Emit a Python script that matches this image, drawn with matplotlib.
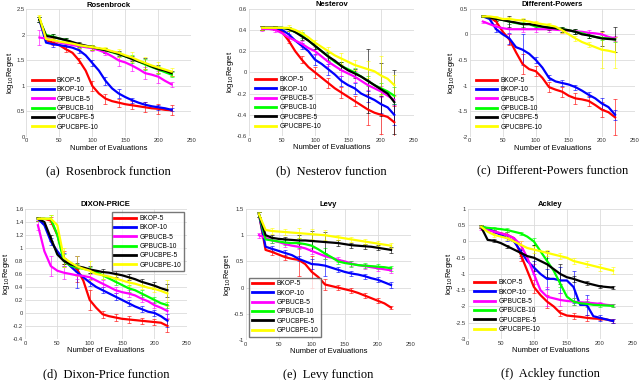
import numpy as np
import matplotlib
matplotlib.use("Agg")
import matplotlib.pyplot as plt
from matplotlib.ticker import FormatStrFormatter

series = ["BKOP-5", "BKOP-10", "GPBUCB-5", "GPBUCB-10", "GPUCBPE-5", "GPUCBPE-10"]
colors = ["#ff0000", "#0000ff", "#ff00ff", "#00ff00", "#000000", "#ffff00"]

evals = [20, 30, 40, 50, 60, 70, 80, 90, 100, 110, 120, 130, 140, 150, 160, 170, 180, 190, 200, 210, 220]
err_evals = [20, 40, 60, 80, 100, 120, 140, 160, 180, 200, 220]

rosen_mean = [
    [2.3, 1.9, 1.85, 1.8, 1.72, 1.65, 1.5, 1.3, 1.0, 0.85, 0.75, 0.7, 0.67, 0.64, 0.62, 0.6, 0.58, 0.56, 0.55, 0.53, 0.52],
    [2.3, 1.85, 1.82, 1.8, 1.78, 1.75, 1.7, 1.6, 1.45, 1.3, 1.1, 0.95, 0.85, 0.78, 0.72, 0.67, 0.63, 0.6, 0.58, 0.56, 0.53],
    [1.95, 1.93, 1.9, 1.85, 1.83, 1.8, 1.78, 1.76, 1.74, 1.7, 1.65, 1.58, 1.5, 1.46, 1.4, 1.33, 1.25, 1.22, 1.18, 1.1, 1.03],
    [2.3, 2.0, 1.97, 1.93, 1.9, 1.85, 1.8, 1.78, 1.76, 1.73, 1.7, 1.66, 1.62, 1.58, 1.53, 1.48, 1.42, 1.37, 1.32, 1.27, 1.22],
    [2.3, 1.98, 1.96, 1.93, 1.9, 1.86, 1.82, 1.79, 1.76, 1.73, 1.7, 1.67, 1.63, 1.58, 1.53, 1.48, 1.44, 1.38, 1.33, 1.3, 1.25],
    [2.35, 1.92, 1.9, 1.87, 1.85, 1.83, 1.8, 1.78, 1.76, 1.74, 1.72, 1.68, 1.65, 1.6, 1.56, 1.5, 1.45, 1.4, 1.36, 1.32, 1.28],
]
rosen_err = [
    [0.05, 0.05, 0.05, 0.05, 0.1, 0.1, 0.08, 0.08, 0.1, 0.1, 0.1],
    [0.05, 0.05, 0.05, 0.05, 0.05, 0.08, 0.08, 0.05, 0.05, 0.05, 0.03],
    [0.15, 0.05, 0.05, 0.05, 0.05, 0.05, 0.1, 0.1, 0.12, 0.12, 0.05],
    [0.05, 0.05, 0.05, 0.05, 0.05, 0.05, 0.05, 0.08, 0.1, 0.08, 0.05],
    [0.05, 0.05, 0.05, 0.05, 0.05, 0.05, 0.05, 0.05, 0.1, 0.08, 0.05],
    [0.05, 0.05, 0.05, 0.05, 0.05, 0.05, 0.08, 0.1, 0.12, 0.1, 0.08],
]

nest_mean = [
    [0.42, 0.42, 0.42, 0.38, 0.3, 0.2, 0.12, 0.05, 0.0, -0.05, -0.1, -0.15, -0.19, -0.23, -0.27, -0.31, -0.35, -0.38, -0.4, -0.42, -0.47],
    [0.42, 0.42, 0.42, 0.4, 0.36, 0.3, 0.25, 0.2, 0.12, 0.08, 0.03, -0.02, -0.08, -0.12, -0.15, -0.2, -0.23, -0.26, -0.3, -0.33, -0.4],
    [0.41, 0.41, 0.4, 0.37, 0.33, 0.3, 0.27, 0.23, 0.2, 0.15, 0.1, 0.06, 0.02, -0.01, -0.04, -0.08, -0.12, -0.15, -0.18, -0.22, -0.26],
    [0.42, 0.42, 0.42, 0.42, 0.41, 0.38, 0.35, 0.3, 0.25, 0.2, 0.15, 0.1, 0.06, 0.03, 0.0, -0.04, -0.08, -0.12, -0.15, -0.18, -0.22],
    [0.42, 0.42, 0.42, 0.42, 0.41, 0.38, 0.34, 0.3, 0.25, 0.2, 0.15, 0.11, 0.06, 0.02, -0.01, -0.04, -0.08, -0.12, -0.16, -0.2, -0.28],
    [0.42, 0.42, 0.42, 0.42, 0.42, 0.4, 0.37, 0.33, 0.28, 0.24, 0.2, 0.16, 0.13, 0.1, 0.07, 0.05, 0.03, 0.01, -0.03, -0.06, -0.12],
]
nest_err = [
    [0.02, 0.02, 0.02, 0.03, 0.05, 0.05, 0.05, 0.05, 0.15, 0.18, 0.15],
    [0.02, 0.02, 0.03, 0.03, 0.05, 0.05, 0.05, 0.05, 0.05, 0.08, 0.1],
    [0.02, 0.02, 0.03, 0.03, 0.04, 0.04, 0.05, 0.05, 0.05, 0.05, 0.05],
    [0.02, 0.02, 0.02, 0.03, 0.03, 0.03, 0.04, 0.04, 0.05, 0.05, 0.08],
    [0.02, 0.02, 0.02, 0.03, 0.03, 0.04, 0.04, 0.04, 0.3, 0.25, 0.3],
    [0.02, 0.02, 0.03, 0.03, 0.03, 0.04, 0.05, 0.05, 0.08, 0.18, 0.1],
]

dp_mean = [
    [0.35, 0.33, 0.25, 0.05, -0.1, -0.35, -0.58, -0.68, -0.72, -0.85, -1.03, -1.08, -1.12, -1.2, -1.25, -1.27, -1.3, -1.38, -1.47, -1.52, -1.62],
    [0.35, 0.3, 0.1, 0.0, -0.08, -0.25, -0.3, -0.38, -0.5, -0.65, -0.85, -0.92, -0.95, -0.98, -1.03, -1.1, -1.18, -1.25, -1.35, -1.42, -1.57],
    [0.25, 0.2, 0.15, 0.12, 0.1, 0.1, 0.1, 0.1, 0.1, 0.1, 0.1, 0.09, 0.08, 0.07, 0.06, 0.05, 0.03, 0.02, 0.0, -0.05, -0.08],
    [0.35, 0.33, 0.3, 0.28, 0.25, 0.22, 0.2, 0.2, 0.15, 0.15, 0.14, 0.12, 0.1, 0.08, 0.05, 0.02, -0.02, -0.05, -0.07, -0.08, -0.1],
    [0.35, 0.33, 0.3, 0.28, 0.25, 0.23, 0.2, 0.2, 0.18, 0.15, 0.13, 0.12, 0.1, 0.08, 0.05, 0.0, -0.02, -0.05, -0.08, -0.09, -0.1],
    [0.35, 0.35, 0.33, 0.3, 0.3, 0.28, 0.27, 0.25, 0.22, 0.2, 0.18, 0.15, 0.08, 0.0, -0.08, -0.15, -0.2, -0.25, -0.3, -0.32, -0.35],
]
dp_err = [
    [0.02, 0.05, 0.1, 0.2, 0.1, 0.1, 0.1, 0.1, 0.1, 0.15, 0.35],
    [0.02, 0.05, 0.1, 0.3, 0.05, 0.05, 0.05, 0.05, 0.05, 0.1, 0.1],
    [0.02, 0.05, 0.1, 0.05, 0.05, 0.05, 0.05, 0.05, 0.05, 0.05, 0.05],
    [0.02, 0.03, 0.05, 0.05, 0.05, 0.05, 0.05, 0.05, 0.05, 0.05, 0.05],
    [0.02, 0.03, 0.1, 0.1, 0.05, 0.05, 0.05, 0.05, 0.05, 0.15, 0.25],
    [0.02, 0.03, 0.03, 0.05, 0.05, 0.05, 0.05, 0.05, 0.05, 0.35, 0.3],
]

dixon_mean = [
    [1.45, 1.45, 1.42, 1.2, 0.85, 0.75, 0.68, 0.5, 0.2, 0.08, -0.02, -0.05, -0.07, -0.09, -0.1, -0.11, -0.12, -0.13, -0.14, -0.15, -0.2],
    [1.45, 1.35, 1.1, 0.95, 0.82, 0.72, 0.63, 0.55, 0.47, 0.4, 0.35, 0.3, 0.25, 0.2, 0.15, 0.1, 0.06, 0.02, 0.0, -0.05, -0.12],
    [1.35, 0.95, 0.72, 0.65, 0.62, 0.6, 0.58, 0.57, 0.55, 0.5, 0.45, 0.4, 0.35, 0.32, 0.3, 0.27, 0.22, 0.18, 0.12, 0.08, 0.03],
    [1.45, 1.45, 1.45, 1.2, 0.8, 0.73, 0.7, 0.68, 0.66, 0.63, 0.58, 0.53, 0.48, 0.43, 0.38, 0.35, 0.3, 0.25, 0.2, 0.15, 0.12],
    [1.45, 1.4, 1.15, 0.9, 0.8, 0.75, 0.72, 0.7, 0.67, 0.65, 0.63, 0.62, 0.6, 0.58, 0.55, 0.52, 0.48, 0.45, 0.42, 0.38, 0.35],
    [1.45, 1.45, 1.45, 1.35, 0.85, 0.78, 0.72, 0.68, 0.65, 0.6, 0.58, 0.56, 0.53, 0.5, 0.47, 0.45, 0.42, 0.39, 0.37, 0.34, 0.3],
]
dixon_err = [
    [0.03, 0.05, 0.1, 0.2, 0.15, 0.05, 0.05, 0.05, 0.05, 0.05, 0.1],
    [0.03, 0.05, 0.1, 0.25, 0.05, 0.05, 0.05, 0.05, 0.05, 0.05, 0.1],
    [0.08, 0.15, 0.1, 0.05, 0.05, 0.05, 0.05, 0.05, 0.05, 0.05, 0.1],
    [0.03, 0.05, 0.1, 0.05, 0.05, 0.05, 0.05, 0.05, 0.05, 0.05, 0.05],
    [0.03, 0.05, 0.05, 0.05, 0.05, 0.05, 0.05, 0.05, 0.05, 0.05, 0.1],
    [0.03, 0.05, 0.15, 0.15, 0.15, 0.05, 0.05, 0.05, 0.05, 0.05, 0.2],
]

levy_mean = [
    [1.4, 0.72, 0.68, 0.63, 0.58, 0.55, 0.53, 0.45, 0.3, 0.2, 0.06, 0.03, 0.0, -0.03, -0.06, -0.1, -0.15, -0.2, -0.25, -0.3, -0.38],
    [1.4, 0.78, 0.74, 0.7, 0.66, 0.62, 0.55, 0.5, 0.45, 0.44, 0.42, 0.38, 0.34, 0.3, 0.27, 0.25, 0.22, 0.18, 0.15, 0.1, 0.05],
    [1.0, 0.95, 0.9, 0.87, 0.83, 0.8, 0.78, 0.75, 0.7, 0.65, 0.6, 0.57, 0.53, 0.5, 0.46, 0.43, 0.41, 0.39, 0.37, 0.35, 0.33],
    [1.4, 0.92, 0.9, 0.88, 0.86, 0.85, 0.85, 0.83, 0.8, 0.73, 0.65, 0.58, 0.5, 0.47, 0.45, 0.43, 0.42, 0.41, 0.4, 0.39, 0.37],
    [1.4, 1.0, 0.95, 0.93, 0.92, 0.91, 0.9, 0.9, 0.89, 0.88, 0.87, 0.86, 0.85, 0.83, 0.81, 0.8, 0.79, 0.78, 0.76, 0.74, 0.72],
    [1.4, 1.1, 1.08, 1.07, 1.06, 1.05, 1.04, 1.03, 1.02, 1.01, 1.0, 0.98, 0.96, 0.94, 0.92, 0.9, 0.88, 0.86, 0.84, 0.82, 0.8],
]
levy_err = [
    [0.05, 0.05, 0.05, 0.3, 0.3, 0.1, 0.05, 0.05, 0.05, 0.05, 0.03],
    [0.05, 0.05, 0.05, 0.05, 0.1, 0.2, 0.05, 0.05, 0.05, 0.05, 0.05],
    [0.05, 0.05, 0.05, 0.05, 0.05, 0.05, 0.05, 0.05, 0.05, 0.05, 0.05],
    [0.05, 0.05, 0.05, 0.1, 0.1, 0.1, 0.05, 0.05, 0.05, 0.05, 0.05],
    [0.05, 0.05, 0.05, 0.1, 0.2, 0.2, 0.05, 0.05, 0.05, 0.05, 0.05],
    [0.05, 0.05, 0.05, 0.1, 0.1, 0.1, 0.05, 0.05, 0.05, 0.05, 0.05],
]

ackley_mean = [
    [0.45, 0.4, 0.3, 0.25, 0.2, 0.1, -0.4, -0.9, -1.4, -1.65, -1.85, -2.0, -2.2, -2.28, -2.3, -2.32, -2.35, -2.37, -2.38, -2.4, -2.45],
    [0.45, 0.4, 0.3, 0.2, 0.1, 0.0, -0.3, -0.6, -0.8, -1.0, -1.15, -1.15, -1.2, -1.2, -1.4, -1.95, -1.95, -2.3, -2.35, -2.4, -2.45],
    [0.4, 0.35, 0.3, 0.25, 0.2, 0.1, -0.1, -0.5, -1.0, -1.5, -1.7, -1.75, -1.8, -1.83, -1.85, -1.87, -1.88, -1.9, -1.92, -1.95, -1.97],
    [0.45, 0.42, 0.4, 0.38, 0.35, 0.3, 0.25, 0.15, 0.0, -0.3, -0.6, -0.9, -1.3, -1.7, -1.85, -1.9, -1.92, -1.95, -1.96, -1.97, -1.98],
    [0.45, 0.05, 0.02, -0.05, -0.15, -0.25, -0.35, -0.45, -0.5, -0.6, -0.7, -0.85, -1.0, -1.1, -1.15, -1.22, -1.28, -1.33, -1.38, -1.4, -1.42],
    [0.45, 0.3, 0.2, 0.15, 0.1, 0.0, -0.1, -0.2, -0.25, -0.3, -0.35, -0.4, -0.45, -0.5, -0.6, -0.65, -0.7, -0.75, -0.8, -0.85, -0.9],
]
ackley_err = [
    [0.05, 0.05, 0.1, 0.2, 0.2, 0.2, 0.1, 0.1, 0.1, 0.05, 0.05],
    [0.05, 0.05, 0.1, 0.2, 0.2, 0.3, 0.4, 0.5, 0.3, 0.1, 0.05],
    [0.05, 0.05, 0.1, 0.1, 0.3, 0.3, 0.2, 0.1, 0.1, 0.05, 0.05],
    [0.05, 0.05, 0.05, 0.05, 0.1, 0.1, 0.1, 0.1, 0.1, 0.05, 0.05],
    [0.05, 0.05, 0.05, 0.1, 0.4, 0.4, 0.3, 0.1, 0.05, 0.05, 0.05],
    [0.05, 0.05, 0.05, 0.1, 0.1, 0.1, 0.1, 0.1, 0.1, 0.1, 0.1],
]

panels = [
    # title, mean, err, ylim, ystep, caption, axes rect, legend loc, legend frame
    ("Rosenbrock", rosen_mean, rosen_err, (0, 2.5), 0.5, "(a)  Rosenbrock function",
     [0.041, 0.640, 0.258, 0.335], "lower left", False),
    ("Nesterov", nest_mean, nest_err, (-0.6, 0.6), 0.2, "(b)  Nesterov function",
     [0.389, 0.642, 0.258, 0.335], "lower left", False),
    ("Different-Powers", dp_mean, dp_err, (-2, 0.5), 0.5, "(c)  Different-Powers function",
     [0.734, 0.640, 0.258, 0.337], "lower left", False),
    ("DIXON-PRICE", dixon_mean, dixon_err, (-0.4, 1.6), 0.2, "(d)  Dixon-Price function",
     [0.039, 0.108, 0.253, 0.342], "upper right", True),
    ("Levy", levy_mean, levy_err, (-1, 1.5), 0.5, "(e)  Levy function",
     [0.384, 0.105, 0.258, 0.345], "lower left", True),
    ("Ackley", ackley_mean, ackley_err, (-3, 1), 0.5, "(f)  Ackley function",
     [0.731, 0.108, 0.258, 0.342], "lower left", False),
]

plt.rcParams["font.family"] = ["Liberation Sans", "DejaVu Sans"]

fig = plt.figure(figsize=(6.4, 3.8), dpi=100)

for title, mean, err, ylim, ystep, caption, rect, loc, frame in panels:
    ax = fig.add_axes(rect)
    for name, col, m, e in zip(series, colors, mean, err):
        ax.plot(evals, m, color=col, lw=1.6, label=name, zorder=3)
        ax.errorbar(err_evals, m[::2], yerr=e, fmt="none", ecolor=col,
                    elinewidth=0.6, capsize=1.2, capthick=0.6, alpha=0.7, zorder=2)
    ax.set_xlim(0, 250)
    ax.set_ylim(*ylim)
    ax.set_xticks([0, 50, 100, 150, 200, 250])
    ax.set_yticks(np.round(np.arange(ylim[0], ylim[1] + ystep / 2, ystep), 2))
    ax.yaxis.set_major_formatter(FormatStrFormatter("%g"))
    ax.tick_params(labelsize=4.2, length=0, pad=1.2, colors="#333333")
    ax.grid(True, color="#dcdcdc", lw=0.6)
    for sp in ax.spines.values():
        sp.set_visible(False)
    ax.set_title(title, fontsize=5.5, fontweight="bold", pad=2)
    ax.set_xlabel("Number of Evaluations", fontsize=5.5, labelpad=1)
    ax.set_ylabel("log$_{10}$Regret", fontsize=5.5, labelpad=0.5)
    leg = ax.legend(loc=loc, fontsize=4.8, frameon=frame, handlelength=3.2,
                    handletextpad=0.5, labelspacing=0.35, borderpad=0.4,
                    fancybox=False, edgecolor="#555555")
    for h in leg.get_lines():
        h.set_linewidth(2)
    fig.text(rect[0] + rect[2] / 2, rect[1] - 0.092, caption, ha="center", va="center",
             fontsize=9, family=["Liberation Serif", "DejaVu Serif"])

fig.savefig("out.png", dpi=100)
